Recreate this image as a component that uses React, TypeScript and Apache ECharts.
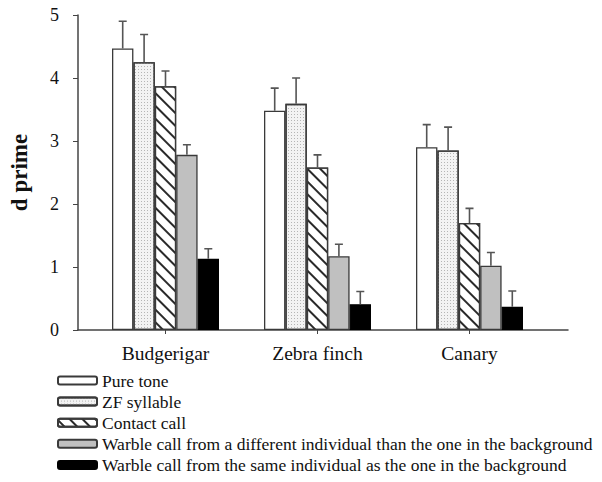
import React, { useEffect, useRef } from 'react';
import * as echarts from 'echarts';

const categories = ['Budgerigar', 'Zebra finch', 'Canary'];
const seriesNames = [
  'Pure tone',
  'ZF syllable',
  'Contact call',
  'Warble call from a different individual than the one in the background',
  'Warble call from the same individual as the one in the background',
];
const pureTone = [4.47, 3.48, 2.9];
const zfSyllable = [4.25, 3.59, 2.85];
const contactCall = [3.87, 2.58, 1.7];
const warbleDifferent = [2.78, 1.17, 1.02];
const warbleSame = [1.13, 0.41, 0.37];

const pureToneErr = [0.43, 0.36, 0.36];
const zfSyllableErr = [0.44, 0.41, 0.37];
const contactCallErr = [0.24, 0.2, 0.23];
const warbleDifferentErr = [0.16, 0.19, 0.21];
const warbleSameErr = [0.16, 0.2, 0.25];

const yTicks = [0, 1, 2, 3, 4, 5];

const FONT = 'Liberation Serif';
const BAR_W = 21.4;

export default function App() {
  const ref = useRef<HTMLDivElement>(null);
  useEffect(() => {
    if (!ref.current) return;
    const chart = echarts.init(ref.current, undefined, { renderer: 'svg' });
    const means = [pureTone, zfSyllable, contactCall, warbleDifferent, warbleSame];
    const errs = [pureToneErr, zfSyllableErr, contactCallErr, warbleDifferentErr, warbleSameErr];
    const border = '#3a3a3a';
    const styles: any[] = [
      { color: '#ffffff', borderColor: border, borderWidth: 1.3 },
      {
        color: '#f3f3f3', borderColor: border, borderWidth: 1.3,
        decal: { symbol: 'rect', symbolSize: 1, dashArrayX: [1, 2], dashArrayY: [1, 2], color: '#b5b5b5' },
      },
      {
        color: '#ffffff', borderColor: border, borderWidth: 1.3,
        decal: { symbol: 'rect', symbolSize: 1, dashArrayX: [1, 0], dashArrayY: [1.6, 7], rotation: Math.PI / 4, color: '#2a2a2a' },
      },
      { color: '#c0c0c0', borderColor: border, borderWidth: 1.3 },
      { color: '#000000', borderColor: '#000000', borderWidth: 1.3 },
    ];
    const barSeries = seriesNames.map((name, s) => ({
      name,
      type: 'bar',
      xAxisIndex: 1,
      yAxisIndex: 1,
      barWidth: BAR_W,
      barGap: '0%',
      itemStyle: styles[s],
      data: means[s],
      z: 2,
    }));
    const errData: number[][] = [];
    means.forEach((arr, s) => arr.forEach((v, i) => errData.push([i, v + errs[s][i], s, v])));
    const errSeries = {
      type: 'custom',
      xAxisIndex: 1,
      yAxisIndex: 1,
      z: 5,
      silent: true,
      encode: { x: 0, y: 1 },
      data: errData,
      renderItem: (params: any, api: any) => {
        const i = api.value(0);
        const top = api.value(1);
        const s = api.value(2);
        const mean = api.value(3);
        const pb = api.coord([i, mean]);
        const pt = api.coord([i, top]);
        const x = pb[0] + (s - 2) * BAR_W;
        return {
          type: 'polyline',
          shape: { points: [[x, pb[1]], [x, pt[1]], [x - 4, pt[1]], [x + 4, pt[1]]] },
          style: { stroke: '#555555', lineWidth: 1.6, fill: null },
        };
      },
    };
    chart.setOption({
      animation: false,
      textStyle: { fontFamily: FONT },
      grid: [
        { left: 67, right: 34, top: 15, bottom: 152 },
        { left: 89.5, right: 56.5, top: 15, bottom: 152 },
      ],
      legend: {
        orient: 'vertical',
        left: 57,
        top: 371.5,
        padding: 0,
        height: 108,
        itemWidth: 39,
        itemHeight: 8,
        itemGap: 3.1,
        data: seriesNames,
        textStyle: { fontFamily: FONT, fontSize: 17.5, color: '#111', lineHeight: 16 },
      },
      xAxis: [
        {
          gridIndex: 0,
          type: 'value',
          min: 0,
          max: 1,
          splitLine: { show: false },
          axisLine: { show: true, onZero: false, lineStyle: { color: '#444', width: 1.5 } },
          axisTick: { show: false },
          axisLabel: { show: false },
        },
        {
          gridIndex: 1,
          type: 'category',
          data: categories,
          axisLine: { show: false, onZero: false },
          axisTick: { show: true, alignWithLabel: true, length: 4, lineStyle: { color: '#444' } },
          axisLabel: {
            fontFamily: FONT,
            fontSize: 19.5,
            color: '#111',
            margin: 13,
          },
        },
      ],
      yAxis: [
        {
          gridIndex: 0,
          type: 'value',
          min: 0,
          max: 5,
          interval: 1,
          name: 'd prime',
          nameLocation: 'middle',
          nameGap: 47,
          nameTextStyle: { fontFamily: FONT, fontSize: 23, fontWeight: 'bold', color: '#111' },
          splitLine: { show: false },
          axisLine: { show: true, onZero: false, lineStyle: { color: '#444', width: 1.5 } },
          axisTick: { show: true, length: 5, lineStyle: { color: '#444' } },
          axisLabel: {
            fontFamily: FONT,
            fontSize: 18,
            color: '#111',
            margin: 19,
            formatter: (v: number) => (yTicks.includes(v) ? String(v) : ''),
          },
        },
        {
          gridIndex: 1,
          type: 'value',
          min: 0,
          max: 5,
          interval: 1,
          show: false,
        },
      ],
      series: [...barSeries, errSeries],
    });
    return () => chart.dispose();
  }, []);
  return <div ref={ref} style={{ position: 'absolute', left: 0, top: 0, width: 602, height: 482 }} />;
}
